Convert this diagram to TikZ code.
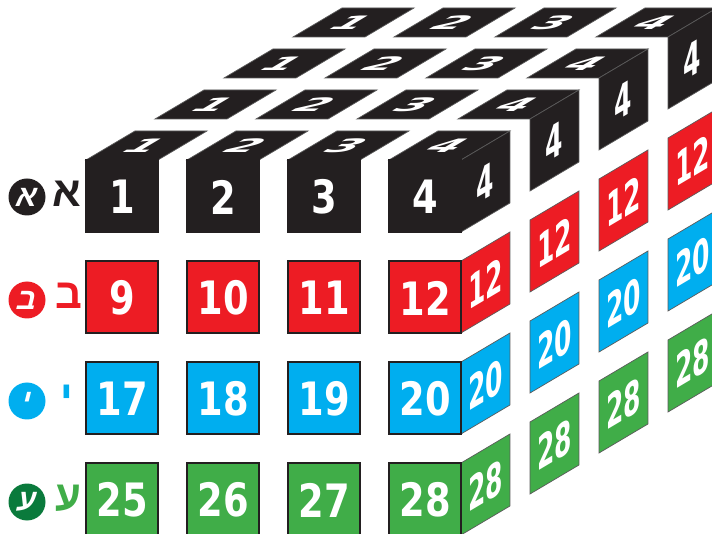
\documentclass[tikz,border=0pt]{standalone}
\usepackage{fontspec}
\TeXXeTstate=1
\newfontfamily\digitfont{DejaVu Sans}
\newfontfamily\hebfont[Script=Hebrew]{Liberation Sans}
\definecolor{cblack}{HTML}{231F20}
\definecolor{cred}{HTML}{ED1C24}
\definecolor{cblue}{HTML}{00AEEF}
\definecolor{cgreen}{HTML}{40AD48}
\definecolor{cdkgreen}{HTML}{0A7A3C}
\definecolor{edgegray}{HTML}{5A5A5A}
\newcommand\frontface[5]{%
  \begin{scope}[shift={(#1,#2)}]
    \fill[#3] (0,0) rectangle (72,72);
    \draw[frontedge] (0,0) rectangle (72,72);
    \node[num] (#5) at (36,35) {#4};
  \end{scope}}
\newcommand\topface[5]{%
  \begin{scope}[shift={(#1,#2)}, cm={1,0,0.68,0.403,(0,0)}]
    \fill[#3] (0,0) rectangle (72,72);
    \draw[thinedge] (0,0) rectangle (72,72);
    \node[num, transform shape, xscale=1.2] (#5) at (34,36) {#4};
  \end{scope}}
\newcommand\sideface[5]{%
  \begin{scope}[shift={(#1,#2)}, cm={0.68,0.403,0,1,(0,0)}]
    \fill[#3] (0,0) rectangle (72,72);
    \draw[thinedge] (0,0) rectangle (72,72);
    \node[num, transform shape] (#5) at (36,35) {#4};
  \end{scope}}
\begin{document}
\begin{tikzpicture}[x=1pt,y=1pt,
  num/.style={text=white, inner sep=0, xscale=0.8,
    font=\digitfont\bfseries\fontsize{46}{46}\selectfont},
  frontedge/.style={draw=cblack, line width=1.8pt},
  thinedge/.style={draw=edgegray, line width=0.7pt},
  badge/.style={circle, minimum size=37pt, inner sep=0, text=white,
    font=\hebfont\bfseries\fontsize{30}{30}\selectfont},
  heb/.style={inner sep=0, font=\hebfont\bfseries\fontsize{42}{42}\selectfont}]
\useasboundingbox (0,0) rectangle (712,533);
\clip (0,0) rectangle (712,533);
% top faces (row 1, all depths)
\foreach \d in {0,...,3} {
  \foreach \c in {0,...,3} {
    \pgfmathtruncatemacro\val{\c+1}
    \pgfmathsetmacro\tx{86+101*\c+69*\d}
    \pgfmathsetmacro\ty{373+41*\d}
    \topface{\tx}{\ty}{cblack}{\val}{top\d c\c}
  }
}
% side faces and front faces
\foreach \r/\col/\n in {0/cblack/1, 1/cred/9, 2/cblue/17, 3/cgreen/25} {
  \pgfmathtruncatemacro\sval{\n+3}
  \foreach \d in {0,...,3} {
    \pgfmathsetmacro\sx{461+69*\d}
    \pgfmathsetmacro\sy{301-101*\r+41*\d}
    \sideface{\sx}{\sy}{\col}{\sval}{side\r d\d}
  }
  \foreach \c in {0,...,3} {
    \pgfmathtruncatemacro\val{\n+\c}
    \pgfmathsetmacro\fx{86+101*\c}
    \pgfmathsetmacro\fy{301-101*\r}
    \frontface{\fx}{\fy}{\col}{\val}{fr\r c\c}
  }
}
% row labels
\node[badge, fill=cblack] (b1) at (27,336) {};
\node[badge, fill=cred] (b2) at (27,233) {};
\node[badge, fill=cblue] (b3) at (27,132) {};
\node[badge, fill=cdkgreen] (b4) at (27,31) {};
\foreach \b/\t in {b1/א, b2/ב, b3/י, b4/ע}
  \node[inner sep=0, text=white, xslant=0.25,
    font=\hebfont\bfseries\fontsize{30}{30}\selectfont] (\b t) at (\b) {\beginR\t\endR};
\node[heb, text=cblack] (h1) at (67,339) {\beginR א\endR};
\node[heb, text=cred] (h2) at (69,237) {\beginR ב\endR};
\node[heb, text=cblue, anchor=north] (h3) at (67,148) {\beginR י\endR};
\node[heb, text=cgreen] (h4) at (68,35) {\beginR ע\endR};
\end{tikzpicture}
\end{document}
